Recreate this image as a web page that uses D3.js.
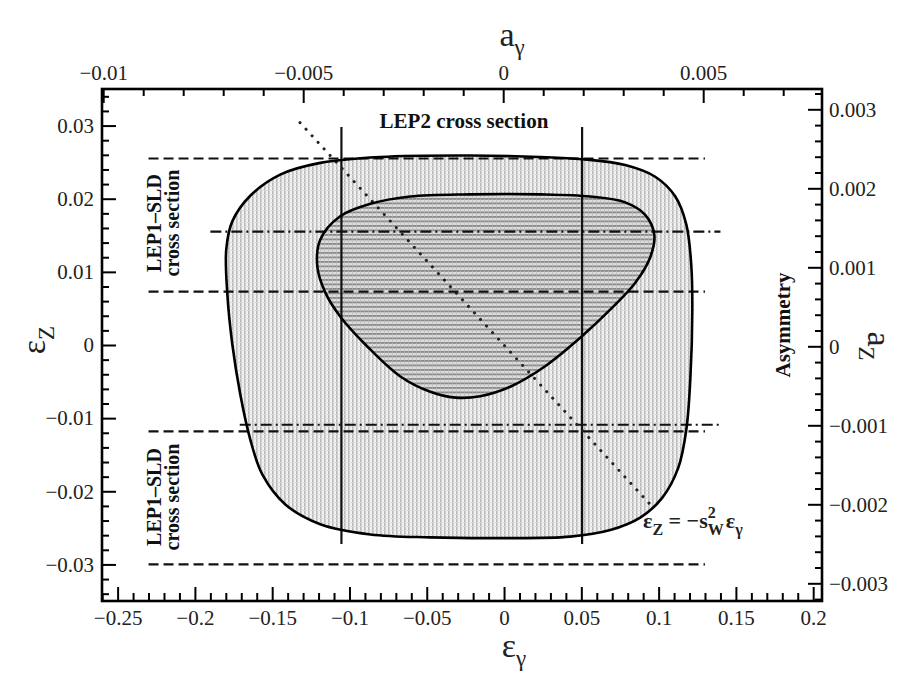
<!DOCTYPE html>
<html><head><meta charset="utf-8">
<script src="https://cdn.jsdelivr.net/npm/d3@7"></script>
<style>body{margin:0;background:#fff}</style>
</head><body>
<svg id="c" width="910" height="678"></svg>
<script>
// ---------- data ----------
const xTicks = [-0.25,-0.2,-0.15,-0.1,-0.05,0,0.05,0.1,0.15,0.2];
const xTickLabels = ["−0.25","−0.2","−0.15","−0.1","−0.05","0","0.05","0.1","0.15","0.2"];
const yTicks = [-0.03,-0.02,-0.01,0,0.01,0.02,0.03];
const yTickLabels = ["−0.03","−0.02","−0.01","0","0.01","0.02","0.03"];
const aGammaTicks = [-0.01,-0.005,0,0.005];
const aGammaLabels = ["−0.01","−0.005","0","0.005"];
const aZTicks = [-0.003,-0.002,-0.001,0,0.001,0.002,0.003];
const aZLabels = ["−0.003","−0.002","−0.001","0","0.001","0.002","0.003"];

// outer (combined) allowed region: eps_gamma, eps_Z
const outerX = [-0.0219,0.0234,0.0506,0.0784,0.0978,0.1108,0.1179,0.1211,0.1218,0.1205,0.1179,0.1127,0.1023,0.0881,0.0687,0.0428,-0.0025,-0.0477,-0.0865,-0.1189,-0.1415,-0.1564,-0.1642,-0.1706,-0.1758,-0.1790,-0.1797,-0.1758,-0.1642,-0.1448,-0.1189,-0.0801];
const outerY = [0.0259,0.0257,0.0254,0.0246,0.0230,0.0203,0.0165,0.0110,0.0048,-0.0047,-0.0116,-0.0168,-0.0209,-0.0236,-0.0253,-0.0262,-0.0264,-0.0263,-0.0259,-0.0245,-0.0218,-0.0177,-0.0129,-0.0068,0.0001,0.0069,0.0131,0.0169,0.0204,0.0233,0.0249,0.0257];
// inner region
const innerX = [-0.0219,0.0234,0.0557,0.0784,0.0913,0.0972,0.0946,0.0849,0.0700,0.0493,0.0266,0.0040,-0.0154,-0.0316,-0.0477,-0.0671,-0.0885,-0.1060,-0.1157,-0.1208,-0.1189,-0.1060,-0.0865,-0.0607];
const innerY = [0.0206,0.0206,0.0203,0.0195,0.0178,0.0151,0.0120,0.0085,0.0051,0.0010,-0.0029,-0.0057,-0.0070,-0.0072,-0.0064,-0.0043,-0.0002,0.0039,0.0072,0.0107,0.0144,0.0176,0.0193,0.0203];

const lep2X = [-0.1052, 0.0505];       // LEP2 cross section bounds
const lep2YRange = [-0.0272, 0.0298];
const lep1Y = [0.0255, 0.0073, -0.0118, -0.0300];  // LEP1-SLD cross section bounds
const lep1XRange = [-0.230, 0.130];
const asymY = [0.0155, -0.0109];       // asymmetry bounds
const asymXStart = [-0.190, -0.171];
const asymXEnd = [0.140, 0.140];
const swLineX = [-0.132, 0.095];       // eps_Z = -s_W^2 eps_gamma
const swLineY = [0.0304, -0.0219];

// ---------- layout ----------
const L = 102, R = 822, T = 89, B = 601;
const svg = d3.select("#c");
const x = d3.scaleLinear().domain([-0.2601, 0.2057]).range([L, R]);
const y = d3.scaleLinear().domain([-0.0350, 0.0350]).range([B, T]);
const xa = d3.scaleLinear().domain([-0.01003, 0.00797]).range([L, R]);
const ya = d3.scaleLinear().domain([-0.003224, 0.003257]).range([B, T]);

const defs = svg.append("defs");
const po = defs.append("pattern").attr("id","pOuter").attr("patternUnits","userSpaceOnUse").attr("width",4).attr("height",4);
po.append("rect").attr("width",4).attr("height",4).attr("fill","#f2f2f2");
po.append("rect").attr("x",0).attr("y",0).attr("width",1.6).attr("height",4).attr("fill","#b9b9b9");
po.append("rect").attr("x",0).attr("y",2).attr("width",4).attr("height",0.8).attr("fill","#dadada");
const pi = defs.append("pattern").attr("id","pInner").attr("patternUnits","userSpaceOnUse").attr("width",4).attr("height",4.5);
pi.append("rect").attr("width",4).attr("height",4.5).attr("fill","#dcdcdc");
pi.append("rect").attr("x",0).attr("y",0).attr("width",4).attr("height",1.8).attr("fill","#8a8a8a");
pi.append("rect").attr("x",0).attr("y",0).attr("width",1).attr("height",4.5).attr("fill","#b5b5b5").attr("opacity",0.6);

const serif = "'Liberation Serif','Times New Roman',serif";

// ---------- regions ----------
const closed = d3.line().x(d=>x(d[0])).y(d=>y(d[1])).curve(d3.curveCatmullRomClosed.alpha(0.5));
const outerPts = outerX.map((v,i)=>[v, outerY[i]]);
const innerPts = innerX.map((v,i)=>[v, innerY[i]]);
svg.append("path").attr("d", closed(outerPts)).attr("fill","url(#pOuter)").attr("stroke","none");
svg.append("path").attr("d", closed(innerPts)).attr("fill","url(#pInner)").attr("stroke","none");

// ---------- constraint lines ----------
lep1Y.forEach(v=>{
  svg.append("line").attr("x1",x(lep1XRange[0])).attr("x2",x(lep1XRange[1]))
    .attr("y1",y(v)).attr("y2",y(v)).attr("stroke","#111").attr("stroke-width",2.2)
    .attr("stroke-dasharray","10,5");
});
asymY.forEach((v,i)=>{
  svg.append("line").attr("x1",x(asymXStart[i])).attr("x2",x(asymXEnd[i]))
    .attr("y1",y(v)).attr("y2",y(v)).attr("stroke","#111").attr("stroke-width",2.2)
    .attr("stroke-dasharray","11,4,2,4");
});
lep2X.forEach(v=>{
  svg.append("line").attr("x1",x(v)).attr("x2",x(v))
    .attr("y1",y(lep2YRange[0])).attr("y2",y(lep2YRange[1])).attr("stroke","#111").attr("stroke-width",2.2);
});
svg.append("line").attr("x1",x(swLineX[0])).attr("y1",y(swLineY[0]))
  .attr("x2",x(swLineX[1])).attr("y2",y(swLineY[1]))
  .attr("stroke","#222").attr("stroke-width",3).attr("stroke-dasharray","0.1,8.8").attr("stroke-linecap","round");

// contour outlines
svg.append("path").attr("d", closed(outerPts)).attr("fill","none").attr("stroke","#000").attr("stroke-width",2.6);
svg.append("path").attr("d", closed(innerPts)).attr("fill","none").attr("stroke","#000").attr("stroke-width",2.6);

// ---------- axes ----------
function styleAxis(g){
  g.select(".domain").remove();
  g.selectAll("line").attr("stroke","#000").attr("stroke-width",2);
  g.selectAll("text").attr("font-family",serif).attr("font-size",21).attr("fill","#222");
}
const minorX = d3.range(-26,21).map(d=>d/100).filter(v=>Math.abs(v*20-Math.round(v*20))>1e-9);
const minorY = d3.range(-17,18).map(d=>d*0.002).filter(v=>Math.abs(v*100-Math.round(v*100))>1e-9);
const minorAG = d3.range(-10,8).map(d=>d*0.001).filter(v=>Math.abs(v*200-Math.round(v*200))>1e-9);
const minorAZ = d3.range(-16,17).map(d=>d*0.0002).filter(v=>Math.abs(v*1000-Math.round(v*1000))>1e-9);

svg.append("g").attr("transform",`translate(0,${B})`)
  .call(d3.axisBottom(x).tickValues(minorX).tickSize(-8).tickFormat("")).call(styleAxis);
svg.append("g").attr("transform",`translate(0,${B})`)
  .call(d3.axisBottom(x).tickValues(xTicks).tickSize(-14).tickPadding(9).tickFormat((d,i)=>xTickLabels[i])).call(styleAxis);

svg.append("g").attr("transform",`translate(${L},0)`)
  .call(d3.axisLeft(y).tickValues(minorY).tickSize(-7).tickFormat("")).call(styleAxis);
svg.append("g").attr("transform",`translate(${L},0)`)
  .call(d3.axisLeft(y).tickValues(yTicks).tickSize(-14).tickPadding(8).tickFormat((d,i)=>yTickLabels[i])).call(styleAxis);

svg.append("g").attr("transform",`translate(0,${T})`)
  .call(d3.axisTop(xa).tickValues(minorAG).tickSize(-7).tickFormat("")).call(styleAxis);
svg.append("g").attr("transform",`translate(0,${T})`)
  .call(d3.axisTop(xa).tickValues(aGammaTicks).tickSize(-14).tickPadding(9).tickFormat((d,i)=>aGammaLabels[i])).call(styleAxis);

svg.append("g").attr("transform",`translate(${R},0)`)
  .call(d3.axisRight(ya).tickValues(minorAZ).tickSize(-7).tickFormat("")).call(styleAxis);
svg.append("g").attr("transform",`translate(${R},0)`)
  .call(d3.axisRight(ya).tickValues(aZTicks).tickSize(-14).tickPadding(7).tickFormat((d,i)=>aZLabels[i])).call(styleAxis);

svg.append("rect").attr("x",L).attr("y",T).attr("width",R-L).attr("height",B-T)
  .attr("fill","none").attr("stroke","#000").attr("stroke-width",2.6);

// ---------- axis titles ----------
function title(txt, sub, tx, ty, rot){
  const t = svg.append("text").attr("font-family",serif).attr("font-size",34).attr("fill","#222")
    .attr("text-anchor","middle").attr("transform",`translate(${tx},${ty}) rotate(${rot})`);
  t.append("tspan").text(txt);
  t.append("tspan").attr("font-size",23).attr("dy",9).text(sub);
}
title("a","γ",512,46,0);
title("ε","γ",514,657,0);
title("ε","Z",45,340,-90);
title("a","Z",868,346,90);

// ---------- annotations ----------
svg.append("text").attr("x",464).attr("y",128).attr("text-anchor","middle")
  .attr("font-family",serif).attr("font-weight","bold").attr("font-size",21).attr("fill","#111")
  .text("LEP2 cross section");
function vlabel(cx, cy, lines, fs){
  lines.forEach((s,i)=>{
    svg.append("text").attr("transform",`translate(${cx + i*18},${cy}) rotate(-90)`)
      .attr("text-anchor","middle").attr("font-family",serif).attr("font-weight","bold")
      .attr("font-size",fs).attr("fill","#111").text(s);
  });
}
vlabel(161, 223, ["LEP1–SLD","cross section"], 20);
vlabel(161, 497, ["LEP1–SLD","cross section"], 20);
vlabel(790, 325, ["Asymmetry"], 21);

const f = svg.append("text").attr("x",643).attr("y",528).attr("font-family",serif)
  .attr("font-weight","bold").attr("font-size",22).attr("fill","#222");
f.append("tspan").text("ε");
f.append("tspan").attr("font-size",16).attr("dy",7).text("Z");
f.append("tspan").attr("dy",-7).text(" =  −s");
f.append("tspan").attr("font-size",16).attr("dy",-10).text("2");
f.append("tspan").attr("font-size",16).attr("dx",-8).attr("dy",17).text("W");
f.append("tspan").attr("dy",-7).attr("dx",2).text("ε");
f.append("tspan").attr("font-size",16).attr("dy",7).text("γ");
</script>
</body></html>
